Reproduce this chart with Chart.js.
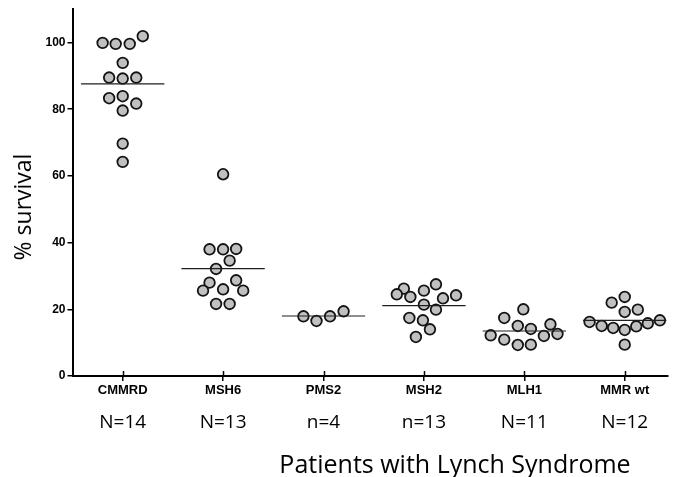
<!DOCTYPE html>
<html>
<head>
<meta charset="utf-8">
<script src="https://cdn.jsdelivr.net/npm/chart.js@4/dist/chart.umd.min.js"></script>
<style>
    html, body { margin: 0; padding: 0; background: #ffffff; }
    #chartBox { width: 675px; height: 477px; }
</style>
</head>
<body>
<div id="chartBox"><canvas id="survivalChart" width="675" height="477"></canvas></div>
<script>
// Categories along the x axis and the counts written under them
const categories = ['CMMRD', 'MSH6', 'PMS2', 'MSH2', 'MLH1', 'MMR wt'];
const groupCounts = ['N=14', 'N=13', 'n=4', 'n=13', 'N=11', 'N=12'];

// % survival per patient, and sideways spread (in category widths) as plotted
const cmmrdSurvival = [99.9, 99.6, 99.6, 101.9, 93.9, 89.5, 89.2, 89.5, 83.3, 83.9, 81.7, 79.6, 69.7, 64.2];
const cmmrdJitter = [-0.2, -0.07, 0.07, 0.2, 0, -0.135, 0, 0.135, -0.135, 0, 0.135, 0, 0, 0];

const msh6Survival = [60.5, 38.0, 38.0, 38.1, 34.6, 32.1, 28.0, 28.7, 25.6, 26.0, 25.6, 21.6, 21.6];
const msh6Jitter = [0, -0.135, 0, 0.13, 0.065, -0.07, -0.135, 0.13, -0.2, 0, 0.2, -0.07, 0.065];

const pms2Survival = [17.9, 16.5, 17.9, 19.4];
const pms2Jitter = [-0.2, -0.07, 0.065, 0.2];

const msh2Survival = [26.2, 23.7, 25.6, 27.5, 23.3, 24.2, 21.4, 19.9, 17.4, 16.7, 14.0, 11.7, 24.5];
const msh2Jitter = [-0.2, -0.135, 0, 0.12, 0.19, 0.32, 0, 0.12, -0.145, -0.01, 0.06, -0.08, -0.27];

const mlh1Survival = [20.0, 17.4, 15.0, 14.1, 15.5, 12.2, 10.9, 9.3, 9.4, 12.0, 12.6];
const mlh1Jitter = [-0.01, -0.2, -0.065, 0.065, 0.26, -0.335, -0.2, -0.065, 0.065, 0.195, 0.33];

const mmrWtSurvival = [23.7, 22.0, 19.2, 19.9, 16.2, 15.0, 14.4, 13.8, 14.9, 15.8, 16.7, 9.4];
const mmrWtJitter = [0, -0.13, 0, 0.13, -0.35, -0.23, -0.115, 0, 0.115, 0.23, 0.35, 0];

// Group means (horizontal bars)
const groupMeans = [87.6, 32.2, 18.0, 21.1, 13.5, 16.7];

const yTicks = [0, 20, 40, 60, 80, 100];

document.addEventListener('DOMContentLoaded', () => {
    const groups = [
        [cmmrdSurvival, cmmrdJitter],
        [msh6Survival, msh6Jitter],
        [pms2Survival, pms2Jitter],
        [msh2Survival, msh2Jitter],
        [mlh1Survival, mlh1Jitter],
        [mmrWtSurvival, mmrWtJitter]
    ];

    // Flatten all patients into one scatter series
    const points = [];
    groups.forEach(([values, jitter], i) => {
        values.forEach((v, k) => points.push({ x: i + jitter[k], y: v }));
    });

    const meanHalfWidth = 0.415;
    const meanSets = groupMeans.map((m, i) => ({
        type: 'line',
        data: [{ x: i - meanHalfWidth, y: m }, { x: i + meanHalfWidth, y: m }],
        borderColor: '#1e1e1e',
        borderWidth: 1.2,
        pointRadius: 0,
        order: 0
    }));

    // Extra text: counts row, axis titles, inner tick halves
    const textPlugin = {
        id: 'textPlugin',
        afterDraw(chart) {
            const { ctx, scales: { x, y } } = chart;
            ctx.save();

            // tick marks poke slightly above the x axis
            ctx.strokeStyle = '#000';
            ctx.lineWidth = 1.5;
            categories.forEach((c, i) => {
                const px = Math.round(x.getPixelForValue(i)) + 0.5;
                ctx.beginPath();
                ctx.moveTo(px, y.bottom);
                ctx.lineTo(px, y.bottom - 5);
                ctx.stroke();
            });

            ctx.fillStyle = '#000';
            ctx.textAlign = 'center';
            ctx.textBaseline = 'middle';
            ctx.font = '19px "Open Sans"';
            groupCounts.forEach((t, i) => {
                ctx.fillText(t, x.getPixelForValue(i), 423);
            });

            ctx.font = '25px "Open Sans"';
            ctx.fillText('Patients with Lynch Syndrome', 455, 466);

            ctx.translate(24, 207);
            ctx.rotate(-Math.PI / 2);
            ctx.font = '23px "Open Sans"';
            ctx.fillText('% survival', 0, 0);
            ctx.restore();
        }
    };

    new Chart(document.getElementById('survivalChart'), {
        type: 'scatter',
        data: {
            datasets: [
                ...meanSets,
                {
                    data: points,
                    backgroundColor: '#c0c0c0',
                    borderColor: '#141414',
                    borderWidth: 1.8,
                    pointRadius: 5.3,
                    order: 1
                }
            ]
        },
        options: {
            responsive: false,
            animation: false,
            layout: { padding: { top: 8, left: 0, right: 0, bottom: 0 } },
            plugins: {
                legend: { display: false },
                tooltip: { enabled: false }
            },
            scales: {
                x: {
                    type: 'linear',
                    min: -0.5,
                    max: 5.43,
                    afterBuildTicks: (scale) => {
                        scale.ticks = categories.map((c, i) => ({ value: i }));
                    },
                    afterFit: (scale) => { scale.height = 101; },
                    ticks: {
                        callback: (v) => categories[v],
                        color: '#000',
                        font: { family: 'Liberation Sans', size: 13, weight: 'bold' },
                        padding: 2,
                        maxRotation: 0,
                        autoSkip: false
                    },
                    grid: { drawOnChartArea: false, tickLength: 5, color: '#000', lineWidth: 1.5 },
                    border: { color: '#000', width: 2 }
                },
                y: {
                    min: 0,
                    max: 110,
                    afterBuildTicks: (scale) => {
                        scale.ticks = yTicks.map(v => ({ value: v }));
                    },
                    afterFit: (scale) => { scale.width = 72.5; },
                    ticks: {
                        color: '#000',
                        font: { family: 'Liberation Sans', size: 12, weight: 'bold' },
                        padding: 2
                    },
                    grid: { drawOnChartArea: false, tickLength: 5, color: '#000', lineWidth: 1.5 },
                    border: { color: '#000', width: 2 }
                }
            }
        },
        plugins: [textPlugin]
    });
});
</script>
</body>
</html>
